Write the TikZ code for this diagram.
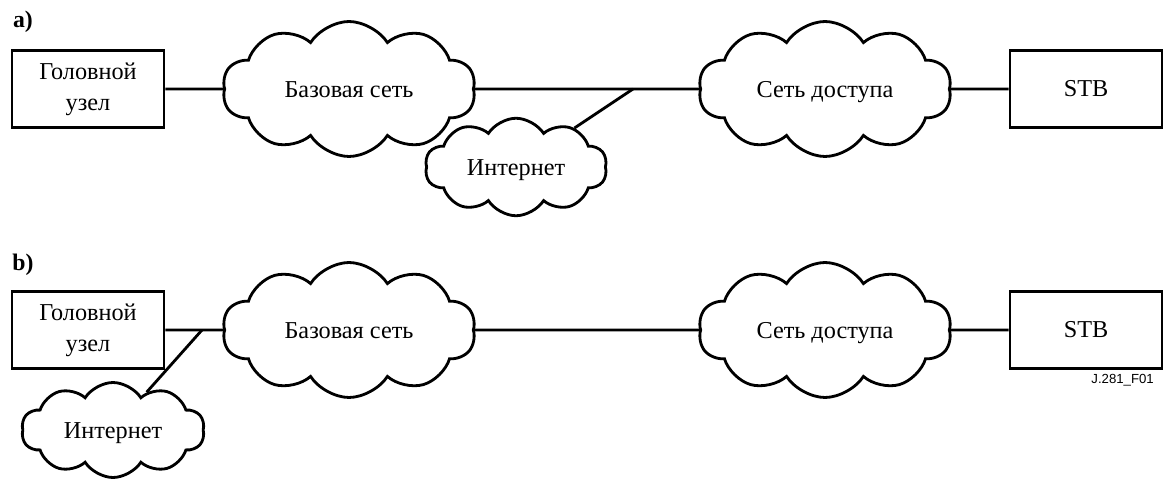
\documentclass[tikz,border=0pt]{standalone}
\usepackage{fontspec}
\setmainfont{Liberation Serif}
\newfontfamily\labelfont{Liberation Sans}
\usepackage{tikz}
\usetikzlibrary{shapes.symbols}

\begin{document}
\begin{tikzpicture}[line width=1.6pt,font=\fontsize{13.8}{17.5}\selectfont]
		\useasboundingbox (0,0) rectangle (23.26,9.58);

		\node[font=\fontsize{13.5}{16}\selectfont\bfseries] (lbla) at (0.46,9.14) {a)};
		\node[font=\fontsize{13.5}{16}\selectfont\bfseries] (lblb) at (0.46,4.28) {b)};
		\node[font=\fontsize{7.5}{9}\labelfont,anchor=east] (fig) at (23.22,1.98) {J.281\_F01};

		\begin{scope}[every node/.style={rectangle,draw,align=center,
		              minimum width=3.04cm,minimum height=1.54cm,inner sep=0pt}]
			\node (heada) at (1.76,7.8) {Головной\\узел};
			\node (stba) at (21.72,7.8) {STB};
			\node (headb) at (1.76,2.98) {Головной\\узел};
			\node (stbb) at (21.72,2.98) {STB};
		\end{scope}

		\begin{scope}[every node/.style={cloud,draw,cloud puffs=10,cloud puff arc=115,
		              cloud ignores aspect,inner sep=0pt,text height=2ex,text depth=0pt,
		              minimum width=5.06cm,minimum height=2.7cm}]
			\node (corea) at (6.98,7.8) {Базовая сеть};
			\node (acca) at (16.5,7.8) {Сеть доступа};
			\node (coreb) at (6.98,2.98) {Базовая сеть};
			\node (accb) at (16.5,2.98) {Сеть доступа};
			\node[minimum width=3.64cm,minimum height=1.95cm] (neta) at (10.32,6.24) {Интернет};
			\node[minimum width=3.66cm,minimum height=1.9cm] (netb) at (2.26,0.98) {Интернет};
		\end{scope}

		\coordinate (ja) at (12.66,7.8);
		\coordinate (jb) at (4.04,2.98);

		\begin{scope}[every edge/.style={draw=black}]
			\path (heada) edge (corea);
			\path (corea) edge (acca);
			\path (neta) edge (ja);
			\path (acca) edge (stba);
			\path (headb) edge (coreb);
			\path (netb) edge (jb);
			\path (coreb) edge (accb);
			\path (accb) edge (stbb);
		\end{scope}
\end{tikzpicture}
\end{document}
